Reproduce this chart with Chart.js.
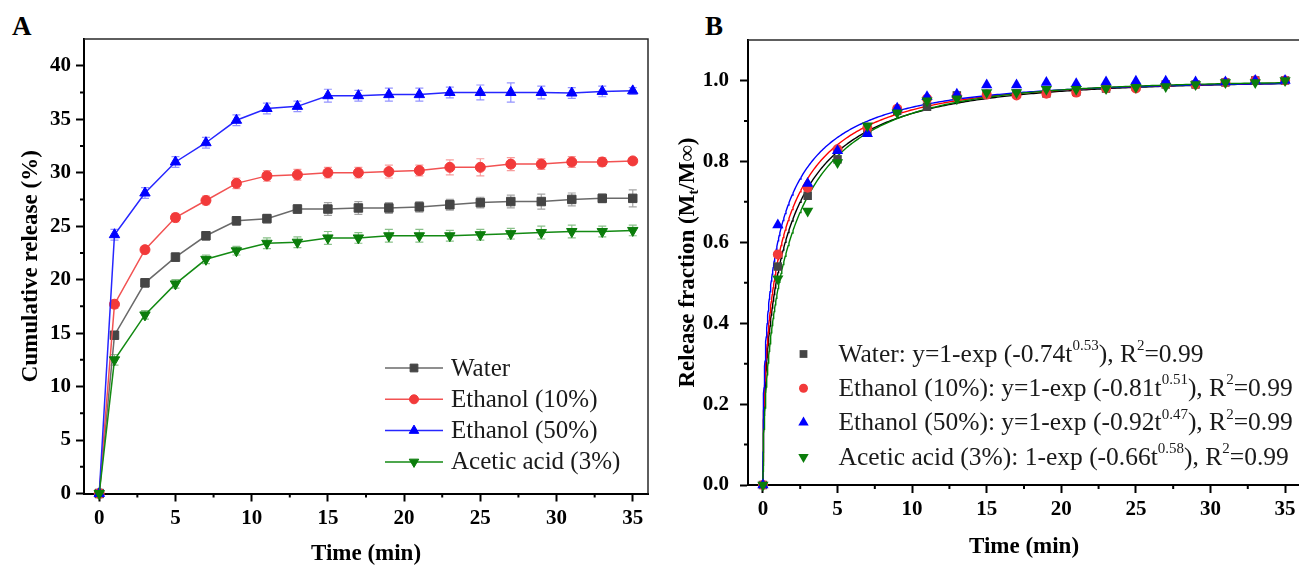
<!DOCTYPE html>
<html>
<head>
<meta charset="utf-8">
<script src="https://cdn.jsdelivr.net/npm/chart.js@4.4.0/dist/chart.umd.min.js"></script>
<style>
html, body { margin: 0; padding: 0; background: #fff; overflow: hidden; width: 1299px; height: 566px; }
canvas { position: absolute; top: 0; }
#chartA { left: 0; }
#chartB { left: 655px; }
.panel { position: absolute; font: bold 27px "Liberation Serif", serif; line-height: 1; color: #000; }
</style>
</head>
<body>
<div class="panel" style="left:12px;top:13px">A</div>
<div class="panel" style="left:705px;top:13px">B</div>
<canvas id="chartA" width="655" height="566"></canvas>
<canvas id="chartB" width="660" height="566"></canvas>
<script>
// sampling times (min)
var time = [0, 1, 3, 5, 7, 9, 11, 13, 15, 17, 19, 21, 23, 25, 27, 29, 31, 33, 35];
var seriesNames = ['Water', 'Ethanol (10%)', 'Ethanol (50%)', 'Acetic acid (3%)'];

// panel A: cumulative release (%) and error bars
var waterRel  = [0, 14.8, 19.7, 22.1, 24.1, 25.5, 25.7, 26.6, 26.6, 26.7, 26.7, 26.8, 27.0, 27.2, 27.3, 27.3, 27.5, 27.6, 27.6];
var eth10Rel  = [0, 17.7, 22.8, 25.8, 27.4, 29.0, 29.7, 29.8, 30.0, 30.0, 30.1, 30.2, 30.5, 30.5, 30.8, 30.8, 31.0, 31.0, 31.1];
var eth50Rel  = [0, 24.2, 28.1, 31.0, 32.8, 34.9, 36.0, 36.2, 37.2, 37.2, 37.3, 37.3, 37.5, 37.5, 37.5, 37.5, 37.45, 37.6, 37.65];
var aceticRel = [0, 12.5, 16.7, 19.6, 21.9, 22.7, 23.4, 23.5, 23.9, 23.9, 24.1, 24.1, 24.1, 24.2, 24.3, 24.4, 24.5, 24.5, 24.6];

var waterErr  = [0, 0.3, 0.4, 0.4, 0.4, 0.4, 0.4, 0.4, 0.6, 0.6, 0.5, 0.5, 0.5, 0.5, 0.6, 0.7, 0.6, 0.4, 0.8];
var eth10Err  = [0, 0.4, 0.3, 0.4, 0.4, 0.5, 0.5, 0.5, 0.5, 0.5, 0.6, 0.5, 0.7, 0.8, 0.6, 0.5, 0.5, 0.4, 0.3];
var eth50Err  = [0, 0.5, 0.5, 0.5, 0.5, 0.5, 0.5, 0.5, 0.6, 0.5, 0.6, 0.6, 0.5, 0.7, 0.9, 0.6, 0.5, 0.5, 0.3];
var aceticErr = [0, 0.5, 0.4, 0.4, 0.4, 0.4, 0.5, 0.5, 0.6, 0.5, 0.6, 0.6, 0.5, 0.5, 0.5, 0.6, 0.6, 0.5, 0.5];

// panel B: release fraction Mt/Minf
var waterFrac  = [0, 0.54, 0.715, 0.805, 0.875, 0.925, 0.935, 0.963, 0.965, 0.968, 0.968, 0.972, 0.98, 0.985, 0.99, 0.99, 0.995, 1.0, 1.0];
var eth10Frac  = [0, 0.57, 0.735, 0.83, 0.883, 0.93, 0.955, 0.96, 0.965, 0.963, 0.967, 0.97, 0.98, 0.98, 0.99, 0.99, 0.995, 1.0, 1.0];
var eth50Frac  = [0, 0.643, 0.745, 0.826, 0.868, 0.931, 0.96, 0.966, 0.989, 0.989, 0.995, 0.992, 0.996, 0.998, 0.998, 0.996, 0.996, 1.0, 1.0];
var aceticFrac = [0, 0.51, 0.677, 0.797, 0.888, 0.92, 0.95, 0.955, 0.97, 0.97, 0.978, 0.978, 0.98, 0.983, 0.985, 0.99, 0.995, 0.995, 1.0];

// fitted model y = 1-exp(-k t^n), parameters as printed in the legend
var fitK = [0.74, 0.81, 0.92, 0.66];
var fitN = [0.53, 0.51, 0.47, 0.58];
var fitR2 = [0.99, 0.99, 0.99, 0.99];
var fitPrefix = ['y=1-exp', 'y=1-exp', 'y=1-exp', '1-exp'];

// axis ticks
var xMajor = [0, 5, 10, 15, 20, 25, 30, 35];
var xMinor = [2.5, 7.5, 12.5, 17.5, 22.5, 27.5, 32.5];
var yMajorA = [0, 5, 10, 15, 20, 25, 30, 35, 40];
var yMinorA = [2.5, 7.5, 12.5, 17.5, 22.5, 27.5, 32.5, 37.5];
var yMajorB = [0, 0.2, 0.4, 0.6, 0.8, 1.0];
var yMinorB = [0.1, 0.3, 0.5, 0.7, 0.9];

var relSeries = [waterRel, eth10Rel, eth50Rel, aceticRel];
var errSeries = [waterErr, eth10Err, eth50Err, aceticErr];
var fracSeries = [waterFrac, eth10Frac, eth50Frac, aceticFrac];

var lineColors = ['#6a6a6a', '#f25252', '#2626ff', '#138a13'];
var markColors = ['#454545', '#f23a3a', '#0000ff', '#0b7d0b'];
var errColors = ['rgba(90,90,90,0.55)', 'rgba(240,60,60,0.5)', 'rgba(40,40,255,0.5)', 'rgba(20,130,20,0.5)'];
var fitColors = ['#000000', '#ff0000', '#0000ff', '#008000'];
var markStyles = ['rect', 'circle', 'triangle', 'triangle'];
var markRot = [0, 0, 0, 180];
var markRadA = [6, 5, 6, 6];
var markRadB = [6, 5, 6.5, 6.5];

Chart.defaults.font.family = '"Liberation Serif", "Times New Roman", serif';
Chart.defaults.color = '#000';

function pts(xs, ys) {
    return xs.map(function (v, i) { return { x: v, y: ys[i] }; });
}

var errorBars = {
    id: 'errorBars',
    beforeDatasetsDraw: function (chart) {
        var ctx = chart.ctx, x = chart.scales.x, y = chart.scales.y;
        chart.data.datasets.forEach(function (ds) {
            if (!ds.errors) return;
            ctx.save();
            ctx.strokeStyle = ds.errorColor;
            ctx.lineWidth = 1.2;
            ctx.beginPath();
            ds.data.forEach(function (p, i) {
                var e = ds.errors[i];
                if (!e) return;
                var px = x.getPixelForValue(p.x);
                var y1 = y.getPixelForValue(p.y + e), y2 = y.getPixelForValue(p.y - e);
                ctx.moveTo(px, y1); ctx.lineTo(px, y2);
                ctx.moveTo(px - 4, y1); ctx.lineTo(px + 4, y1);
                ctx.moveTo(px - 4, y2); ctx.lineTo(px + 4, y2);
            });
            ctx.stroke();
            ctx.restore();
        });
    }
};

var frame = {
    id: 'frame',
    afterDraw: function (chart, args, o) {
        var ctx = chart.ctx, a = chart.chartArea, x = chart.scales.x, y = chart.scales.y;
        ctx.save();
        ctx.strokeStyle = '#2a2a2a';
        ctx.lineWidth = 1.5;
        ctx.beginPath();
        ctx.moveTo(a.left, a.top); ctx.lineTo(a.right, a.top); ctx.lineTo(a.right, a.bottom);
        ctx.stroke();
        ctx.strokeStyle = '#000';
        ctx.lineWidth = 2;
        ctx.beginPath();
        o.xMinor.forEach(function (v) {
            var px = x.getPixelForValue(v);
            ctx.moveTo(px, a.bottom); ctx.lineTo(px, a.bottom + o.len);
        });
        o.yMinor.forEach(function (v) {
            var py = y.getPixelForValue(v);
            ctx.moveTo(a.left, py); ctx.lineTo(a.left - o.len, py);
        });
        ctx.stroke();
        ctx.restore();
    }
};

var lineLegend = {
    id: 'lineLegend',
    afterDraw: function (chart, args, o) {
        var ctx = chart.ctx;
        ctx.save();
        ctx.font = '25px "Liberation Serif"';
        ctx.textBaseline = 'middle';
        chart.data.datasets.forEach(function (ds, i) {
            var y = o.top + i * o.gap;
            ctx.strokeStyle = ds.borderColor;
            ctx.lineWidth = 1.5;
            ctx.beginPath(); ctx.moveTo(o.x, y); ctx.lineTo(o.x + o.w, y); ctx.stroke();
            ctx.fillStyle = ds.pointBackgroundColor;
            ctx.strokeStyle = ds.pointBorderColor;
            ctx.lineWidth = 1;
            Chart.helpers.drawPoint(ctx, { pointStyle: ds.pointStyle, rotation: ds.pointRotation, radius: ds.pointRadius - 0.5, borderWidth: 1 }, o.x + o.w / 2, y);
            ctx.fillStyle = '#1a1a1a';
            ctx.fillText(ds.label, o.textX, y + 1);
        });
        ctx.restore();
    }
};

function drawSegs(ctx, segs, x, y, big, small, shift, weight) {
    segs.forEach(function (s) {
        ctx.font = weight + (s[1] ? small : big) + 'px "Liberation Serif"';
        ctx.fillText(s[0], x, y + s[1] * shift);
        x += ctx.measureText(s[0]).width;
    });
}

var fitLegend = {
    id: 'fitLegend',
    afterDraw: function (chart, args, o) {
        var ctx = chart.ctx;
        ctx.save();
        ctx.textBaseline = 'middle';
        seriesNames.forEach(function (name, i) {
            var y = o.top + i * o.gap;
            ctx.fillStyle = markColors[i];
            Chart.helpers.drawPoint(ctx, { pointStyle: markStyles[i], rotation: markRot[i], radius: markRadB[i] - 0.5, borderWidth: 0 }, o.x, y);
            var segs = [
                [name + ': ' + fitPrefix[i] + ' (-' + fitK[i].toFixed(2) + 't', 0],
                [fitN[i].toFixed(2), 1],
                ['), R', 0],
                ['2', 1],
                ['=' + fitR2[i].toFixed(2), 0]
            ];
            ctx.fillStyle = '#1a1a1a';
            drawSegs(ctx, segs, o.textX, y + 1, 25.5, 15, -9, '');
        });
        ctx.restore();
    }
};

var yTitleB = {
    id: 'yTitleB',
    afterDraw: function (chart, args, o) {
        var ctx = chart.ctx, a = chart.chartArea;
        var segs = [['Release fraction (M', 0], ['t', 1], ['/M\u221e)', 0]];
        ctx.save();
        ctx.translate(o.x, (a.top + a.bottom) / 2);
        ctx.rotate(-Math.PI / 2);
        ctx.textBaseline = 'middle';
        ctx.fillStyle = '#000';
        var w = 0;
        segs.forEach(function (s) {
            ctx.font = 'bold ' + (s[1] ? 15 : 23) + 'px "Liberation Serif"';
            w += ctx.measureText(s[0]).width;
        });
        drawSegs(ctx, segs, -w / 2, 0, 23, 15, 6, 'bold ');
        ctx.restore();
    }
};

function xScale(height, titlePad) {
    return {
        type: 'linear', min: -1, max: 36,
        afterBuildTicks: function (s) { s.ticks = xMajor.map(function (v) { return { value: v }; }); },
        afterFit: function (s) { s.height = height; },
        ticks: { font: { size: 21, weight: 'bold' }, padding: 4, maxRotation: 0, autoSkip: false, color: '#000' },
        grid: { drawOnChartArea: false, tickLength: 8, tickWidth: 2, tickColor: '#000' },
        border: { color: '#000', width: 2 },
        title: { display: true, text: 'Time (min)', font: { size: 23, weight: 'bold', lineHeight: 1 }, padding: { top: 0, bottom: titlePad }, color: '#000' }
    };
}

var ctxA = document.getElementById('chartA').getContext('2d');
var chartA = new Chart(ctxA, {
    type: 'line',
    data: {
        datasets: seriesNames.map(function (name, i) {
            return {
                label: name,
                data: pts(time, relSeries[i]),
                errors: errSeries[i],
                errorColor: errColors[i],
                borderColor: lineColors[i],
                borderWidth: 1.5,
                pointStyle: markStyles[i],
                pointRotation: markRot[i],
                pointRadius: markRadA[i],
                pointBackgroundColor: markColors[i],
                pointBorderColor: markColors[i],
                pointBorderWidth: 1,
                tension: 0,
                clip: false,
                order: 3 - i
            };
        })
    },
    options: {
        responsive: false,
        animation: false,
        devicePixelRatio: 1,
        layout: { padding: { left: 0, top: 39, right: 7, bottom: 0 } },
        scales: {
            x: xScale(72.5, 0),
            y: {
                type: 'linear', min: 0, max: 42.5,
                afterBuildTicks: function (s) { s.ticks = yMajorA.map(function (v) { return { value: v }; }); },
                afterFit: function (s) { s.width = 84; },
                ticks: { font: { size: 21, weight: 'bold' }, padding: 5, color: '#000' },
                grid: { drawOnChartArea: false, tickLength: 8, tickWidth: 2, tickColor: '#000' },
                border: { color: '#000', width: 2 },
                title: { display: true, text: 'Cumulative release (%)', font: { size: 23, weight: 'bold', lineHeight: 1 }, padding: { top: 19.5, bottom: 0 }, color: '#000' }
            }
        },
        plugins: {
            legend: { display: false },
            tooltip: { enabled: false },
            frame: { xMinor: xMinor, yMinor: yMinorA, len: 4 },
            lineLegend: { x: 385, w: 58, textX: 451, top: 368, gap: 31.3 }
        }
    },
    plugins: [errorBars, frame, lineLegend]
});

// dense sampling of the fitted curves
var tFit = [];
for (var j = 0; j <= 300; j++) tFit.push(35 * Math.pow(j / 300, 2));

var fitSets = seriesNames.map(function (name, i) {
    return {
        label: name + ' fit',
        data: tFit.map(function (t) { return { x: t, y: 1 - Math.exp(-fitK[i] * Math.pow(t, fitN[i])) }; }),
        showLine: true,
        borderColor: fitColors[i],
        borderWidth: 1.4,
        pointRadius: 0,
        tension: 0,
        clip: false,
        order: 10 + (3 - i)
    };
});
var pointSets = seriesNames.map(function (name, i) {
    return {
        label: name,
        data: pts(time, fracSeries[i]),
        showLine: false,
        pointStyle: markStyles[i],
        pointRotation: markRot[i],
        pointRadius: markRadB[i],
        pointBackgroundColor: markColors[i],
        pointBorderColor: markColors[i],
        pointBorderWidth: 0,
        clip: false,
        order: 3 - i
    };
});

var ctxB = document.getElementById('chartB').getContext('2d');
var chartB = new Chart(ctxB, {
    type: 'scatter',
    data: { datasets: fitSets.concat(pointSets) },
    options: {
        responsive: false,
        animation: false,
        devicePixelRatio: 1,
        layout: { padding: { left: 0, top: 40, right: 15, bottom: 0 } },
        scales: {
            x: xScale(81, 7.5),
            y: {
                type: 'linear', min: 0, max: 1.1,
                afterBuildTicks: function (s) { s.ticks = yMajorB.map(function (v) { return { value: v }; }); },
                afterFit: function (s) { s.width = 93; },
                ticks: { font: { size: 21, weight: 'bold' }, padding: 11, color: '#000', callback: function (v) { return v.toFixed(1); } },
                grid: { drawOnChartArea: false, tickLength: 8, tickWidth: 2, tickColor: '#000' },
                border: { color: '#000', width: 2 },
                title: { display: false }
            }
        },
        plugins: {
            legend: { display: false },
            tooltip: { enabled: false },
            frame: { xMinor: xMinor, yMinor: yMinorB, len: 4 },
            fitLegend: { x: 148.5, textX: 183.5, top: 354, gap: 34.3 },
            yTitleB: { x: 33 }
        }
    },
    plugins: [frame, fitLegend, yTitleB]
});
</script>
</body>
</html>
